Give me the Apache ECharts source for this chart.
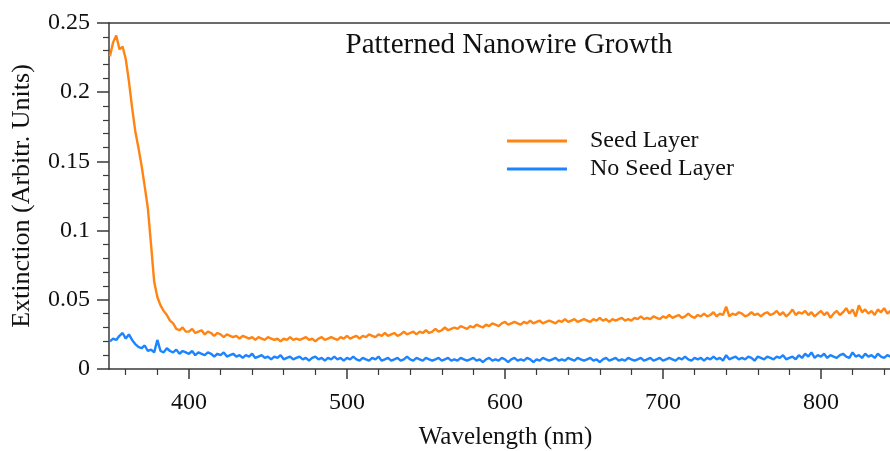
<!DOCTYPE html>
<html>
<head>
<meta charset="utf-8">
<script src="https://cdn.jsdelivr.net/npm/echarts@6/dist/echarts.min.js"></script>
<style>
html,body{margin:0;padding:0;background:#fff;}
#chart{width:890px;height:451px;}
</style>
</head>
<body>
<div id="chart"></div>
<script>
// Sampling grid: wavelengths (nm), start and step of the measured spectra
const wlStart = 350;
const wlStep = 2;

// Seed Layer extinction, 350..848 nm every 2 nm
const seedLayer = [
  0.226,0.236,0.241,0.231,0.233,0.224,0.208,0.189,0.172,0.160,
  0.147,0.132,0.116,0.090,0.063,0.052,0.046,0.042,0.039,0.035,
  0.033,0.029,0.028,0.030,0.027,0.027,0.029,0.026,0.027,0.028,
  0.025,0.027,0.026,0.024,0.026,0.025,0.023,0.025,0.024,0.023,
  0.024,0.022,0.024,0.023,0.022,0.023,0.021,0.023,0.022,0.021,
  0.023,0.022,0.021,0.022,0.020,0.022,0.021,0.023,0.021,0.022,
  0.021,0.022,0.023,0.021,0.022,0.020,0.022,0.023,0.021,0.022,
  0.023,0.022,0.021,0.023,0.022,0.024,0.022,0.023,0.024,0.022,
  0.024,0.023,0.025,0.024,0.023,0.025,0.024,0.026,0.024,0.025,
  0.026,0.024,0.025,0.027,0.025,0.026,0.027,0.025,0.027,0.026,
  0.028,0.026,0.027,0.029,0.027,0.028,0.030,0.028,0.029,0.030,
  0.029,0.031,0.030,0.029,0.031,0.030,0.032,0.031,0.030,0.032,
  0.031,0.033,0.032,0.031,0.033,0.034,0.032,0.033,0.034,0.033,
  0.032,0.034,0.033,0.035,0.033,0.034,0.035,0.033,0.034,0.035,
  0.034,0.033,0.035,0.034,0.036,0.034,0.035,0.036,0.034,0.035,
  0.036,0.035,0.034,0.036,0.035,0.037,0.035,0.036,0.034,0.036,
  0.035,0.036,0.037,0.035,0.036,0.035,0.037,0.036,0.038,0.036,
  0.037,0.036,0.038,0.037,0.036,0.038,0.037,0.039,0.037,0.038,
  0.039,0.037,0.038,0.040,0.038,0.037,0.039,0.038,0.040,0.038,
  0.039,0.041,0.038,0.040,0.039,0.045,0.038,0.040,0.039,0.041,
  0.040,0.038,0.039,0.041,0.039,0.040,0.038,0.040,0.041,0.039,
  0.040,0.042,0.039,0.041,0.038,0.040,0.043,0.039,0.041,0.040,
  0.042,0.039,0.041,0.038,0.040,0.042,0.039,0.041,0.037,0.040,
  0.042,0.039,0.041,0.044,0.040,0.043,0.038,0.046,0.041,0.043,
  0.040,0.042,0.039,0.043,0.041,0.044,0.040,0.042,0.041,0.040
];

// No Seed Layer extinction, 350..848 nm every 2 nm
const noSeedLayer = [
  0.020,0.022,0.021,0.024,0.026,0.022,0.025,0.021,0.018,0.016,
  0.015,0.017,0.013,0.014,0.012,0.021,0.013,0.012,0.015,0.013,
  0.012,0.014,0.011,0.013,0.012,0.011,0.013,0.010,0.012,0.011,
  0.010,0.012,0.011,0.009,0.011,0.010,0.012,0.009,0.010,0.011,
  0.009,0.010,0.008,0.010,0.009,0.011,0.008,0.009,0.010,0.008,
  0.009,0.007,0.009,0.008,0.010,0.007,0.008,0.009,0.007,0.008,
  0.009,0.007,0.008,0.006,0.008,0.009,0.007,0.008,0.006,0.008,
  0.007,0.009,0.007,0.008,0.006,0.008,0.007,0.009,0.007,0.006,
  0.008,0.007,0.006,0.008,0.007,0.009,0.006,0.007,0.008,0.006,
  0.007,0.008,0.006,0.007,0.009,0.007,0.006,0.008,0.007,0.006,
  0.008,0.007,0.006,0.007,0.008,0.006,0.007,0.008,0.006,0.007,
  0.006,0.008,0.007,0.006,0.007,0.008,0.006,0.007,0.005,0.007,
  0.008,0.006,0.007,0.006,0.008,0.007,0.005,0.007,0.008,0.006,
  0.007,0.006,0.008,0.007,0.005,0.007,0.006,0.008,0.007,0.006,
  0.007,0.008,0.006,0.007,0.006,0.008,0.007,0.006,0.008,0.007,
  0.006,0.007,0.008,0.006,0.007,0.005,0.007,0.008,0.006,0.007,
  0.008,0.006,0.007,0.006,0.008,0.007,0.006,0.007,0.008,0.006,
  0.007,0.008,0.006,0.007,0.008,0.006,0.007,0.008,0.007,0.006,
  0.008,0.007,0.009,0.007,0.006,0.008,0.007,0.008,0.006,0.008,
  0.007,0.009,0.007,0.008,0.006,0.010,0.007,0.008,0.009,0.007,
  0.008,0.007,0.009,0.008,0.006,0.009,0.008,0.007,0.009,0.008,
  0.007,0.009,0.008,0.010,0.007,0.008,0.009,0.007,0.010,0.008,
  0.011,0.009,0.012,0.008,0.010,0.009,0.011,0.008,0.010,0.009,
  0.008,0.010,0.011,0.009,0.008,0.012,0.009,0.010,0.008,0.011,
  0.009,0.010,0.008,0.011,0.009,0.008,0.010,0.009,0.011,0.009
];

// Axis ticks
const xMajorTicks = [400, 500, 600, 700, 800];
const xMinorTicks = [360, 380, 420, 440, 460, 480, 520, 540, 560, 580, 620, 640, 660, 680, 720, 740, 760, 780, 820, 840];
const xRange = [349.4, 843.7];
const yRange = [0, 0.25];

const pairs = arr => arr.map((v, i) => [wlStart + i * wlStep, v]);

const FONT = '"Liberation Serif", "DejaVu Serif", serif';
const AX = '#3a3a3a';

const chart = echarts.init(document.getElementById('chart'), null, {renderer: 'canvas'});
chart.setOption({
  animation: false,
  backgroundColor: '#fff',
  title: {
    text: 'Patterned Nanowire Growth',
    left: 504, top: 26, textAlign: 'center',
    textStyle: {fontFamily: FONT, fontSize: 29, fontWeight: 'normal', color: '#111'}
  },
  legend: {
    orient: 'vertical',
    left: 502, top: 124,
    itemWidth: 60, itemHeight: 3, itemGap: 4,
    icon: 'rect',
    textStyle: {fontFamily: FONT, fontSize: 24, color: '#111', padding: [0, 0, 0, 18]},
    data: ['Seed Layer', 'No Seed Layer']
  },
  grid: {left: 109, right: 0, top: 23, bottom: 82, containLabel: false, outerBoundsMode: 'none'},
  xAxis: [
    {
      type: 'value', position: 'bottom', min: xRange[0], max: xRange[1],
      name: 'Wavelength (nm)', nameLocation: 'middle', nameGap: 56,
      nameTextStyle: {fontFamily: FONT, fontSize: 25, color: '#111', padding: [0, 0, 0, 12]},
      axisLine: {show: true, lineStyle: {color: AX, width: 1.5}},
      axisTick: {show: true, customValues: xMajorTicks, length: 10, lineStyle: {color: AX, width: 1.5}},
      axisLabel: {customValues: xMajorTicks, margin: 22, fontFamily: FONT, fontSize: 24, color: '#111'},
      splitLine: {show: false}
    },
    {
      type: 'value', position: 'bottom', min: xRange[0], max: xRange[1],
      axisLine: {show: false},
      axisTick: {show: true, customValues: xMinorTicks, length: 6, lineStyle: {color: AX, width: 1.2}},
      axisLabel: {show: false},
      splitLine: {show: false}
    },
    {
      type: 'value', position: 'top', min: xRange[0], max: xRange[1],
      axisLine: {show: true, lineStyle: {color: AX, width: 1.5}},
      axisTick: {show: false}, axisLabel: {show: false}, splitLine: {show: false}
    }
  ],
  yAxis: {
    type: 'value', min: yRange[0], max: yRange[1], interval: 0.05,
    name: 'Extinction (Arbitr. Units)', nameLocation: 'middle', nameGap: 74, nameRotate: 90,
    nameTextStyle: {fontFamily: FONT, fontSize: 26, color: '#111'},
    axisLine: {show: true, lineStyle: {color: AX, width: 1.5}},
    axisTick: {show: true, length: 12, lineStyle: {color: AX, width: 1.5}},
    minorTick: {show: true, splitNumber: 5, length: 6, lineStyle: {color: AX, width: 1.2}},
    axisLabel: {margin: 19, fontFamily: FONT, fontSize: 24, color: '#111'},
    splitLine: {show: false}
  },
  series: [
    {
      name: 'Seed Layer', type: 'line', xAxisIndex: 0, showSymbol: false,
      data: pairs(seedLayer), color: '#ff8412',
      lineStyle: {width: 2.4, color: '#ff8412'}
    },
    {
      name: 'No Seed Layer', type: 'line', xAxisIndex: 0, showSymbol: false,
      data: pairs(noSeedLayer), color: '#1c84ff',
      lineStyle: {width: 2.4, color: '#1c84ff'}
    }
  ]
});
</script>
</body>
</html>
